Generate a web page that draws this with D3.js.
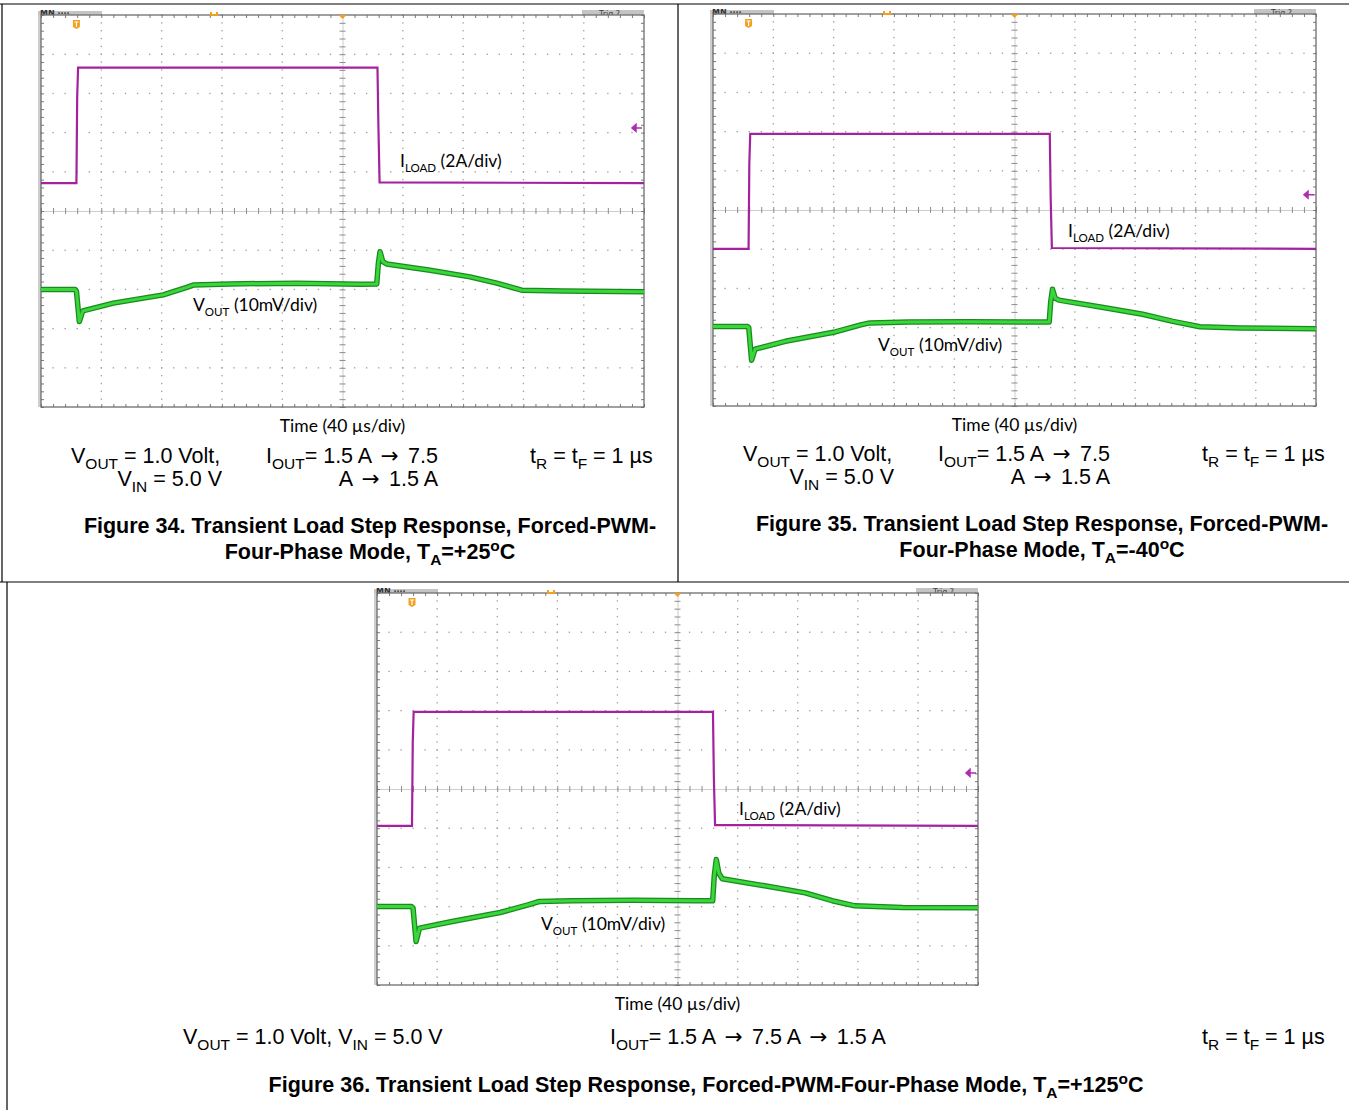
<!DOCTYPE html>
<html>
<head>
<meta charset="utf-8">
<script src="https://cdn.jsdelivr.net/npm/d3@7"></script>
<style>
  body { margin: 0; background: #fff; }
  svg { display: block; }
</style>
</head>
<body>
<div id="chart"></div>
<script>
// every scope screen: 10 div of 40 us across, 10 div high
const timeDomain = [0, 400];
const divDomain = [-5, 5];

// Figure 34 (+25C) traces: time in us, level in div from centre
const iload34T = [0, 23.5, 24.0, 24.6, 223.2, 223.8, 224.6, 400];
const iload34Y = [0.71, 0.71, 2.9, 3.66, 3.66, 2.2, 0.73, 0.71];
const vout34T = [0, 22.6, 23.5, 25.4, 27.7, 48.0, 81.1, 96.7, 101.0, 125.4, 169.6, 211.6, 222.7, 223.8, 224.9, 226.7, 229.3, 258.1, 284.6, 302.3, 318.9, 346.3, 400];
const vout34Y = [-2.00, -2.00, -2.04, -2.82, -2.55, -2.35, -2.14, -1.95, -1.89, -1.86, -1.84, -1.87, -1.86, -1.33, -1.04, -1.29, -1.35, -1.51, -1.68, -1.84, -2.02, -2.04, -2.06];

// Figure 35 (-40C)
const iload35T = [0, 23.6, 24.1, 24.7, 223.4, 224.0, 224.8, 400];
const iload35Y = [-0.99, -0.99, 1.2, 1.94, 1.94, 0.3, -0.97, -0.99];
const vout35T = [0, 22.8, 23.7, 25.6, 27.9, 48.0, 80.0, 98.0, 104.0, 130.0, 170.0, 212.0, 223.0, 224.0, 225.2, 227.0, 229.5, 258.0, 285.0, 305.0, 323.0, 350.0, 400];
const vout35Y = [-2.97, -2.97, -3.00, -3.83, -3.55, -3.35, -3.12, -2.93, -2.88, -2.86, -2.85, -2.86, -2.86, -2.35, -2.02, -2.25, -2.30, -2.48, -2.66, -2.84, -2.98, -3.01, -3.03];

// Figure 36 (+125C)
const iload36T = [0, 23.3, 23.8, 24.4, 223.6, 224.2, 225.0, 400];
const iload36Y = [-0.94, -0.94, 1.2, 1.97, 1.97, 0.3, -0.92, -0.94];
const vout36T = [0, 23.0, 24.0, 26.0, 28.3, 50.0, 82.0, 100.0, 108.0, 130.0, 170.0, 212.0, 223.4, 224.5, 225.8, 227.5, 229.8, 258.0, 285.0, 303.0, 318.0, 350.0, 400];
const vout36Y = [-3.00, -3.00, -3.04, -3.89, -3.55, -3.38, -3.15, -2.96, -2.87, -2.85, -2.84, -2.85, -2.85, -2.20, -1.80, -2.15, -2.29, -2.47, -2.65, -2.85, -2.98, -3.02, -3.03];

// text of the page ("_" sub, "^" sup, "~" arrow glyph)
const chanLabels = [["I", "_LOAD", " (2A/div)"], ["V", "_OUT", " (10mV/div)"]];
const timeLabel = "Time (40 µs/div)";
const condVout = [["V", "_OUT", " = 1.0 Volt,"], ["V", "_IN", " = 5.0 V"]];
const condIout = [["I", "_OUT", "= 1.5 A ", "~→", " 7.5"], ["A ", "~→", " 1.5 A"]];
const condRise = ["t", "_R", " = t", "_F", " = 1 µs"];
const captions = [
  [["Figure 34. Transient Load Step Response, Forced-PWM-"], ["Four-Phase Mode, T", "_A", "=+25", "^o", "C"]],
  [["Figure 35. Transient Load Step Response, Forced-PWM-"], ["Four-Phase Mode, T", "_A", "=-40", "^o", "C"]],
  [["Figure 36. Transient Load Step Response, Forced-PWM-Four-Phase Mode, T", "_A", "=+125", "^o", "C"]]
];

const W = 1349, H = 1110;
const svg = d3.select("#chart").append("svg")
    .attr("width", W)
    .attr("height", H);

// table rules round the three figures
const rules = [[0, 4, W, 4], [678, 4, 678, 582], [0, 582, W, 582], [7, 582, 7, H], [2, 4, 2, 582]];
svg.append("g").selectAll("line").data(rules).join("line")
    .attr("x1", d => d[0]).attr("y1", d => d[1])
    .attr("x2", d => d[2]).attr("y2", d => d[3])
    .attr("stroke", "#000").attr("stroke-width", 1.2);

const scopes = [
  {left: 41, top: 15, width: 603, height: 392, iT: iload34T, iY: iload34Y, vT: vout34T, vY: vout34Y,
   iLab: [400, 167], vLab: [193, 311], gnd: 2.12, trigX: 214},
  {left: 713, top: 14, width: 603, height: 392, iT: iload35T, iY: iload35Y, vT: vout35T, vY: vout35Y,
   iLab: [1068, 237], vLab: [878, 351], gnd: 0.39, trigX: 887},
  {left: 377, top: 593, width: 601, height: 392, iT: iload36T, iY: iload36Y, vT: vout36T, vY: vout36Y,
   iLab: [739, 815], vLab: [541, 930], gnd: 0.41, trigX: 551}
];

// text with sub/superscript parts
function richText(parent, x, y, segs, o) {
  const t = parent.append("text")
      .attr("x", x).attr("y", y)
      .attr("font-family", o.family)
      .attr("font-size", o.size)
      .attr("font-weight", o.weight || "normal")
      .attr("text-anchor", o.anchor || "start")
      .attr("fill", "#000");
  let shift = 0;
  segs.forEach(s => {
    const sub = s[0] === "_", sup = s[0] === "^", arrow = s[0] === "~";
    const target = sub ? o.size * 0.28 : sup ? -o.size * 0.38 : 0;
    const span = t.append("tspan")
        .attr("dy", target - shift)
        .attr("font-size", sub || sup ? o.size * (o.subScale || 0.7) : o.size)
        .text(sub || sup || arrow ? s.slice(1) : s);
    if (arrow) {
      span.attr("font-family", "'DejaVu Sans', sans-serif").attr("font-weight", "normal")
          .attr("dx", 3.5).attr("letter-spacing", 3.5);
    }
    shift = target;
  });
  return t;
}

const scopeFont = {family: "Lato, 'Open Sans', sans-serif", size: 17.5, subScale: 0.66};

function drawScope(cfg, idx) {
  const g = svg.append("g");
  const x = d3.scaleLinear().domain(timeDomain).range([cfg.left, cfg.left + cfg.width]);
  const y = d3.scaleLinear().domain(divDomain).range([cfg.top + cfg.height, cfg.top]);
  const L = cfg.left, R = cfg.left + cfg.width, T = cfg.top, B = cfg.top + cfg.height;

  // scope status bars, only their bottom edge shows
  g.append("rect").attr("x", L - 3).attr("y", T - 4).attr("width", 3).attr("height", cfg.height + 4).attr("fill", "#cfcfcf");
  g.append("rect").attr("x", L - 3).attr("y", T - 4).attr("width", 64).attr("height", 4).attr("fill", "#c4c4c4");
  g.append("rect").attr("x", R - 62).attr("y", T - 5).attr("width", 62).attr("height", 5).attr("fill", "#c4c4c4");
  const clipId = "bar" + idx;
  g.append("clipPath").attr("id", clipId).append("rect")
      .attr("x", L - 3).attr("y", T - 5).attr("width", cfg.width + 3).attr("height", 5);
  const bar = g.append("g").attr("clip-path", `url(#${clipId})`);
  bar.append("text").attr("x", L - 1).attr("y", T + 1).attr("font-family", "DejaVu Sans").attr("font-size", 8)
      .attr("font-weight", "bold").attr("fill", "#333").text("MN  ····");
  bar.append("text").attr("x", R - 45).attr("y", T + 2).attr("font-family", "DejaVu Sans").attr("font-size", 8)
      .attr("fill", "#444").text("Trig ?");

  // dotted graticule
  const majorT = d3.range(40, 400, 40).filter(t => t !== 200);
  const majorY = d3.range(-4, 5, 1).filter(v => v !== 0);
  const minorT = d3.range(0, 400.01, 8);
  const minorY = d3.range(-5, 5.001, 0.2);
  const dots = [];
  majorT.forEach(t => minorY.forEach(v => dots.push([t, v])));
  majorY.forEach(v => minorT.forEach(t => dots.push([t, v])));
  g.append("g").selectAll("rect").data(dots).join("rect")
      .attr("x", d => x(d[0]) - 0.6).attr("y", d => y(d[1]) - 0.6)
      .attr("width", 1.3).attr("height", 1.3)
      .attr("fill", "#9c9c9c");

  // centre cross with ticks
  g.append("g").attr("transform", `translate(0,${y(0)})`)
      .call(d3.axisBottom(x).tickValues(minorT).tickSize(3).tickSizeOuter(0).tickFormat(""))
      .call(a => a.selectAll(".tick line").attr("y1", -3).attr("stroke", "#8c8c8c"))
      .call(a => a.select(".domain").attr("stroke", "#cdcdcd"));
  g.append("g").attr("transform", `translate(${x(200)},0)`)
      .call(d3.axisLeft(y).tickValues(minorY).tickSize(3).tickSizeOuter(0).tickFormat(""))
      .call(a => a.selectAll(".tick line").attr("x1", 3).attr("stroke", "#8c8c8c"))
      .call(a => a.select(".domain").attr("stroke", "#cdcdcd"));

  // border ticks
  const edge = (axis, tr) => g.append("g").attr("transform", tr)
      .call(axis.tickSize(-3).tickSizeOuter(0).tickFormat(""))
      .call(a => a.select(".domain").remove())
      .call(a => a.selectAll(".tick line").attr("stroke", "#7a7a7a"));
  edge(d3.axisTop(x).tickValues(minorT), `translate(0,${T})`);
  edge(d3.axisBottom(x).tickValues(minorT), `translate(0,${B})`);
  edge(d3.axisLeft(y).tickValues(minorY), `translate(${L},0)`);
  edge(d3.axisRight(y).tickValues(minorY), `translate(${R},0)`);

  g.append("rect").attr("x", L).attr("y", T).attr("width", cfg.width).attr("height", cfg.height)
      .attr("fill", "none").attr("stroke", "#6e6e6e").attr("stroke-width", 1.3);

  // markers: trigger position, time reference, ground level
  const orange = "#f2a11f";
  g.append("path").attr("d", `M${cfg.trigX - 3},${T - 3}v3h6v-3`).attr("fill", "none").attr("stroke", orange).attr("stroke-width", 2);
  g.append("path").attr("d", `M${x(200) - 4},${T}h8l-4,4z`).attr("fill", orange);
  const tx = x(cfg.iT[1]);
  g.append("path").attr("d", `M${tx - 3.5},${T + 5}h7v7l-3.5,2l-3.5,-2z`).attr("fill", orange);
  g.append("path").attr("d", `M${tx - 2},${T + 7}h4M${tx},${T + 7}v5`).attr("stroke", "#fff").attr("stroke-width", 1.2);
  g.append("path").attr("d", `M${R - 2},${y(cfg.gnd)}h-6m0,-3.5l-4,3.5l4,3.5z`).attr("stroke", "#b02cb0").attr("fill", "#b02cb0").attr("stroke-width", 1.5);

  // traces
  const line = d3.line().x(d => x(d.t)).y(d => y(d.v));
  const vData = cfg.vT.map((t, i) => ({t: t, v: cfg.vY[i]}));
  const iData = cfg.iT.map((t, i) => ({t: t, v: cfg.iY[i]}));
  g.append("path").datum(vData).attr("d", line).attr("fill", "none")
      .attr("stroke", "#1a8a1e").attr("stroke-width", 5.5).attr("stroke-linejoin", "round");
  g.append("path").datum(vData).attr("d", line).attr("fill", "none")
      .attr("stroke", "#3ad63c").attr("stroke-width", 3).attr("stroke-linejoin", "round");
  g.append("path").datum(iData).attr("d", line).attr("fill", "none")
      .attr("stroke", "#a3239f").attr("stroke-width", 2.2);

  // channel labels
  richText(g, cfg.iLab[0], cfg.iLab[1], chanLabels[0], scopeFont);
  richText(g, cfg.vLab[0], cfg.vLab[1], chanLabels[1], scopeFont);
  g.append("text").attr("x", x(200)).attr("y", B + 25)
      .attr("text-anchor", "middle").attr("font-family", scopeFont.family).attr("font-size", scopeFont.size)
      .text(timeLabel);
}

scopes.forEach(drawScope);

// conditions and captions under each scope
const arial = {family: "'Liberation Sans', Arial, sans-serif", size: 21.5, subScale: 0.72};
const arialBold = {family: "'Liberation Sans', Arial, sans-serif", size: 21.5, weight: "bold", subScale: 0.72};
const notes = svg.append("g");
const withAnchor = (o, a) => Object.assign({}, o, {anchor: a});

[0, 1].forEach(k => {
  const dx = k * 672, dy = k * -2;
  richText(notes, 71 + dx, 463 + dy, condVout[0], arial);
  richText(notes, 222 + dx, 486 + dy, condVout[1], withAnchor(arial, "end"));
  richText(notes, 266 + dx, 463 + dy, condIout[0], arial);
  richText(notes, 438 + dx, 486 + dy, condIout[1], withAnchor(arial, "end"));
  richText(notes, 530 + dx, 463 + dy, condRise, arial);
  richText(notes, 370 + dx, 533 + dy, captions[k][0], withAnchor(arialBold, "middle"));
  richText(notes, 370 + dx, 559 + dy, captions[k][1], withAnchor(arialBold, "middle"));
});

richText(notes, 183, 1044, condVout[0].concat([" "], condVout[1]), arial);
richText(notes, 610, 1044, condIout[0].concat([" "], condIout[1]), arial);
richText(notes, 1202, 1044, condRise, arial);
richText(notes, 706, 1092, captions[2][0], withAnchor(arialBold, "middle"));
</script>
</body>
</html>
